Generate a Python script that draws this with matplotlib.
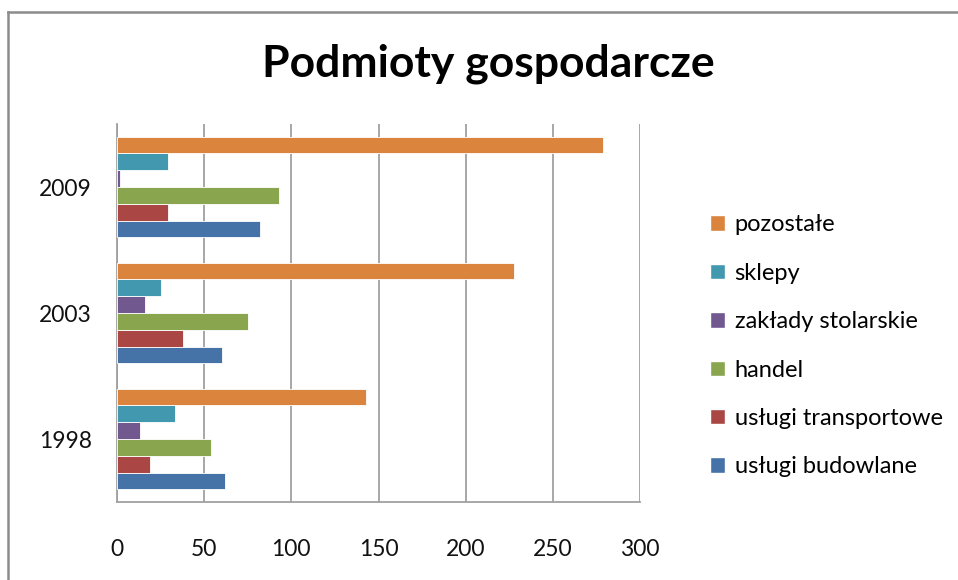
import matplotlib
matplotlib.use('Agg')
import matplotlib.pyplot as plt
import numpy as np
from matplotlib.lines import Line2D
from matplotlib.patches import Patch

plt.rcParams['font.family'] = ['Lato', 'DejaVu Sans']

years = ['1998', '2003', '2009']
uslugi_budowlane = [62, 60, 82]
uslugi_transportowe = [19, 38, 29]
handel = [54, 75, 93]
zaklady_stolarskie = [13, 16, 2]
sklepy = [33, 25, 29]
pozostale = [143, 228, 279]

series = [
    ('usługi budowlane', uslugi_budowlane, '#4572A7'),
    ('usługi transportowe', uslugi_transportowe, '#AA4643'),
    ('handel', handel, '#89A54E'),
    ('zakłady stolarskie', zaklady_stolarskie, '#71588F'),
    ('sklepy', sklepy, '#4198AF'),
    ('pozostałe', pozostale, '#DB843D'),
]

fig = plt.figure(figsize=(9.58, 5.80), dpi=100)
ax = fig.add_axes([117 / 958, 1 - 502 / 580, 523 / 958, 378 / 580])

y = np.arange(len(years))
n = len(series)
bar_h = 1 / 7.5
for i, (name, vals, col) in enumerate(series):
    off = (i - (n - 1) / 2) * bar_h
    ax.barh(y + off, vals, height=bar_h, color=col,
            edgecolor='white', linewidth=0.6, label=name, zorder=3)

ax.set_xlim(0, 300)
ax.set_ylim(-0.5, len(years) - 0.5)
ax.set_xticks(range(0, 301, 50))
ax.set_yticks(y)
ax.set_yticklabels(years)
ax.xaxis.grid(True, color='#A0A0A0', linewidth=1.3, zorder=0)
ax.tick_params(axis='both', length=0, labelsize=16.5, colors='#111111')
ax.tick_params(axis='x', pad=27)
ax.tick_params(axis='y', pad=18)
for s in ['top', 'right']:
    ax.spines[s].set_visible(False)
for s in ['left', 'bottom']:
    ax.spines[s].set_color('#A0A0A0')
    ax.spines[s].set_linewidth(1.3)

fig.text(488 / 958, 1 - 64 / 580, 'Podmioty gospodarcze', ha='center',
         va='center', fontsize=32, fontweight='bold')

handles = [Patch(facecolor=c, edgecolor='white', label=nm)
           for nm, _, c in series[::-1]]
fig.legend(handles=handles, loc='upper left',
           bbox_to_anchor=(701 / 958, 1 - 205 / 580), frameon=False,
           fontsize=17, handlelength=0.62, handleheight=0.62,
           handletextpad=0.4, labelspacing=1.16, borderaxespad=0)

# outer chart frame (right and bottom edges are cut off)
fig.add_artist(Line2D([8 / 958, 8 / 958], [0, 1 - 12 / 580],
                      color='#8C8C8C', linewidth=1.8))
fig.add_artist(Line2D([8 / 958, 1], [1 - 12 / 580, 1 - 12 / 580],
                      color='#8C8C8C', linewidth=1.8))

fig.savefig('out.png', dpi=100)
